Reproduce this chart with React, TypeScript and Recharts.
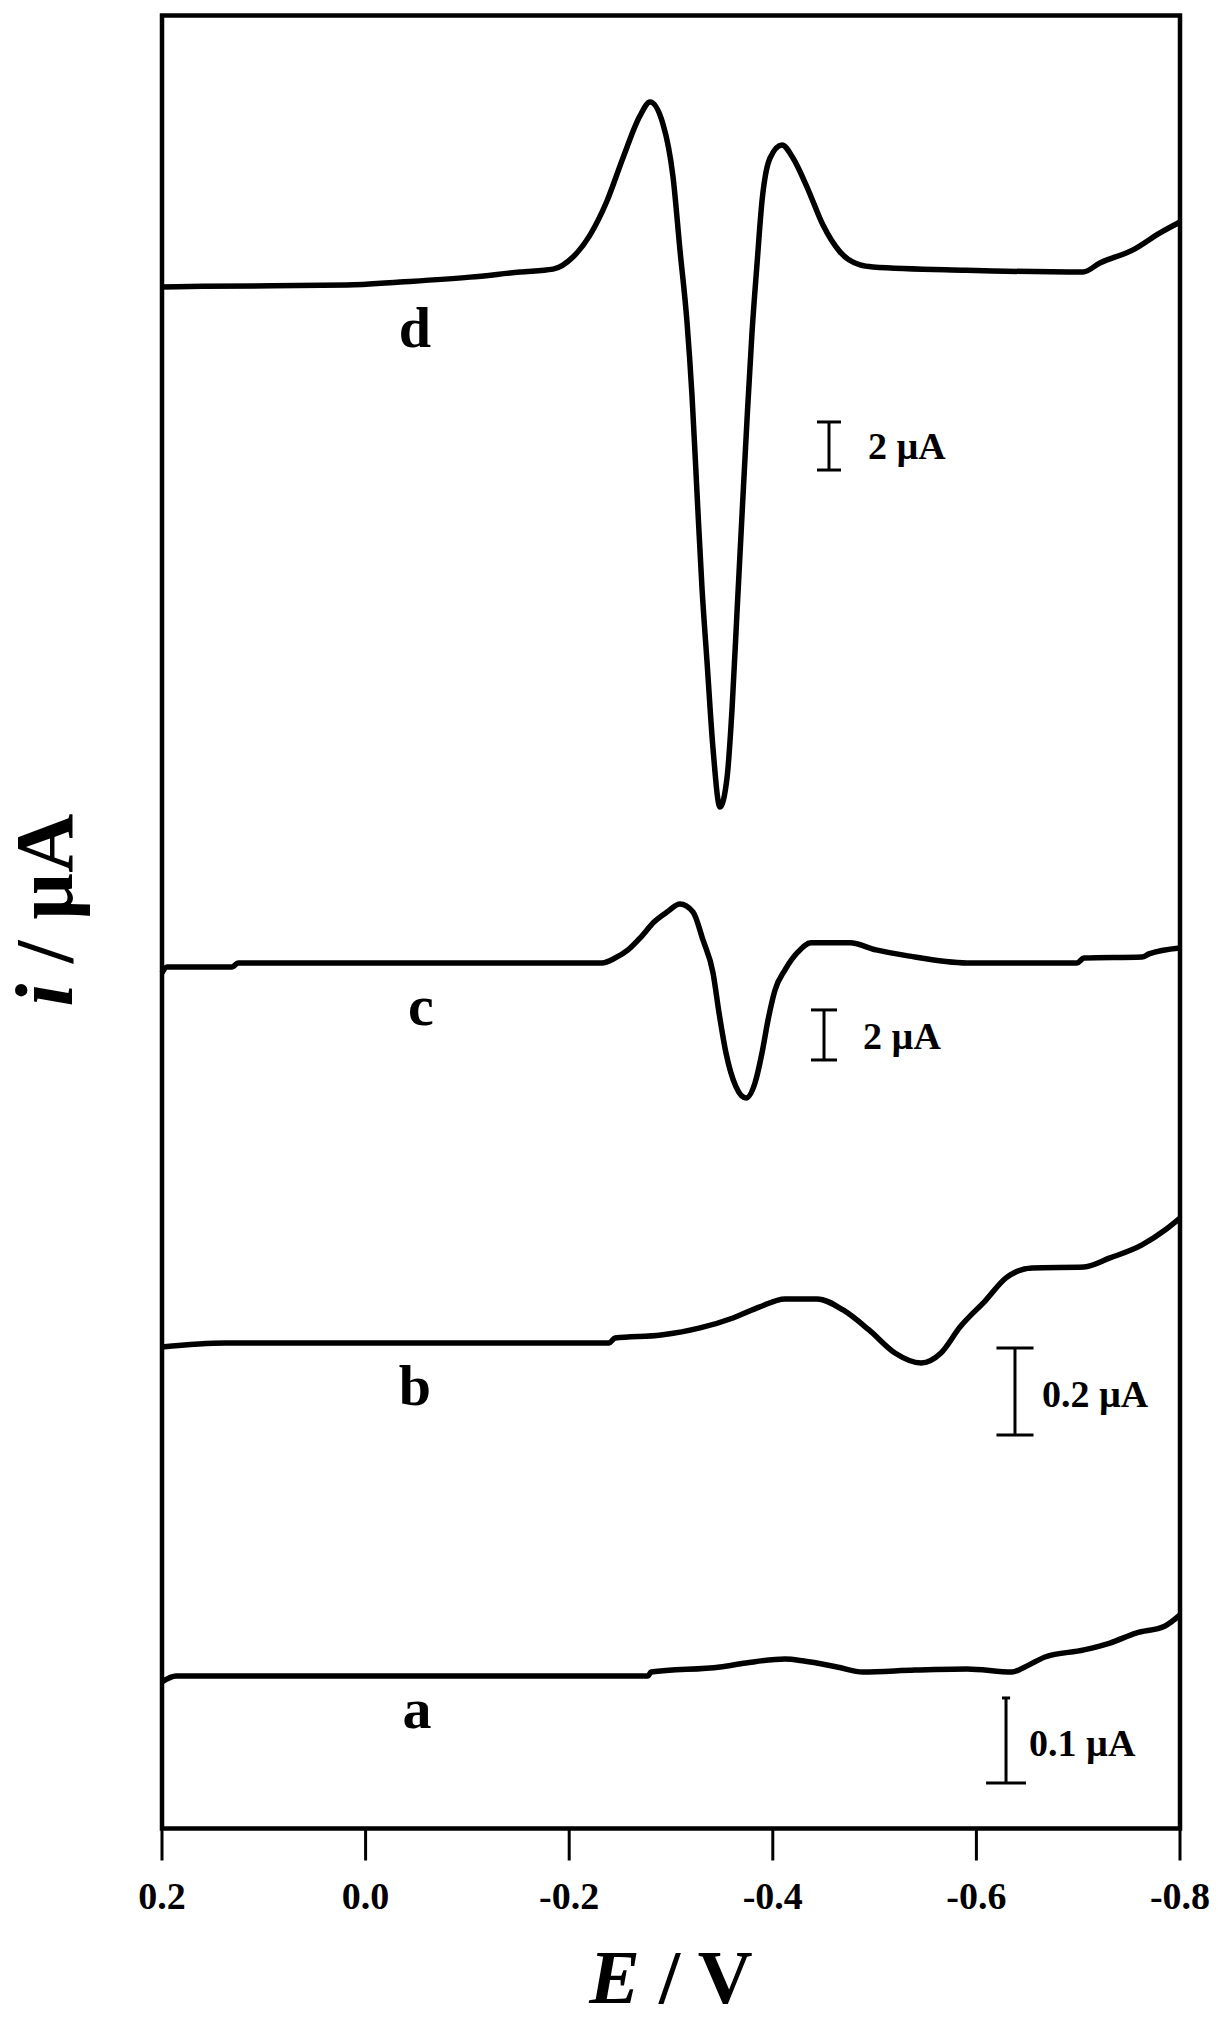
import React from 'react';
import { LineChart, Line, XAxis, YAxis, ReferenceArea, ReferenceLine, ReferenceDot } from 'recharts';

// potential (V) and offset current (arbitrary units, 0-100 of plot height)
const potentialD = [0.2, 0.16, 0.0183, -0.0338, -0.1026, -0.1517, -0.1841, -0.2037, -0.2204, -0.2371, -0.2528, -0.2695, -0.2794, -0.2921, -0.302, -0.3088, -0.3157, -0.3206, -0.3255, -0.3305, -0.3354, -0.3413, -0.3481, -0.355, -0.3599, -0.3648, -0.3697, -0.3747, -0.3796, -0.3845, -0.3894, -0.3973, -0.409, -0.4198, -0.4336, -0.4493, -0.466, -0.4857, -0.4984, -0.59, -0.7047, -0.7214, -0.7538, -0.7804, -0.8];
const currentD = [85.02, 85.06, 85.13, 85.3, 85.57, 85.85, 86.01, 86.68, 87.89, 89.77, 92.14, 94.46, 95.23, 94.02, 91.09, 87.07, 83.1, 79.07, 73.72, 68.37, 64.34, 59.54, 56.34, 57.94, 61.69, 67.04, 72.39, 77.74, 82.54, 86.29, 89.77, 92.14, 92.86, 92.14, 90.54, 88.44, 86.96, 86.24, 86.13, 85.95, 85.85, 86.35, 87.07, 88.01, 88.61];

const potentialC = [0.2, 0.1951, 0.1312, 0.1253, -0.2322, -0.245, -0.2578, -0.2705, -0.2833, -0.2961, -0.3088, -0.3216, -0.3314, -0.3413, -0.3472, -0.354, -0.3639, -0.3737, -0.3825, -0.3894, -0.3953, -0.4022, -0.412, -0.4248, -0.4375, -0.4758, -0.5014, -0.5328, -0.5908, -0.6988, -0.7057, -0.7627, -0.7695, -0.8];
const currentC = [47.19, 47.52, 47.52, 47.74, 47.74, 48.01, 48.46, 49.17, 50.0, 50.55, 50.99, 50.55, 49.01, 47.19, 44.98, 42.78, 40.9, 40.29, 41.12, 42.78, 44.59, 46.25, 47.36, 48.35, 48.85, 48.85, 48.46, 48.13, 47.74, 47.74, 48.01, 48.07, 48.24, 48.57];

const potentialB = [0.2, 0.1381, -0.2391, -0.245, -0.2902, -0.3285, -0.3609, -0.3865, -0.412, -0.4434, -0.469, -0.4945, -0.52, -0.5456, -0.5652, -0.5839, -0.6094, -0.6291, -0.6546, -0.7057, -0.7312, -0.7627, -0.7853, -0.8];
const currentB = [26.56, 26.78, 26.78, 27.05, 27.22, 27.61, 28.16, 28.76, 29.21, 29.21, 28.6, 27.5, 26.23, 25.68, 26.23, 27.66, 29.15, 30.37, 30.92, 30.97, 31.47, 32.19, 33.01, 33.67];

const potentialA = [0.2, 0.1862, -0.2774, -0.2804, -0.3481, -0.3737, -0.412, -0.4306, -0.4631, -0.4886, -0.5397, -0.5908, -0.635, -0.6477, -0.6674, -0.7057, -0.7312, -0.7568, -0.7853, -0.8];
const currentA = [8.08, 8.41, 8.41, 8.63, 8.91, 9.13, 9.35, 9.24, 8.91, 8.63, 8.74, 8.8, 8.63, 8.91, 9.46, 9.85, 10.23, 10.78, 11.17, 11.78];

const xTicks = [0.2, 0, -0.2, -0.4, -0.6, -0.8];

// curve letters: [label, E, baseline]
const curveLabels: [string, number, number][] = [
  ['d', -0.0485, 81.71],
  ['c', -0.0544, 44.32],
  ['b', -0.0485, 23.36],
  ['a', -0.0505, 5.54],
];

// scale bars: E, low, high, cap half-width bottom/top (V), label, label E, label mid
const scaleBars = [
  { e: -0.4552, lo: 74.93, hi: 77.58, capLo: 0.0118, capHi: 0.0118, text: '2 µA', te: -0.4935, tv: 76.26 },
  { e: -0.4503, lo: 42.39, hi: 45.15, capLo: 0.0128, capHi: 0.0128, text: '2 µA', te: -0.4886, tv: 43.71 },
  { e: -0.6379, lo: 21.7, hi: 26.5, capLo: 0.0182, capHi: 0.0182, text: '0.2 µA', te: -0.6644, tv: 23.97 },
  { e: -0.6291, lo: 2.51, hi: 7.2, capLo: 0.0196, capHi: 0.004, text: '0.1 µA', te: -0.6517, tv: 4.73 },
];

const zip = (p: number[], c: number[]) => p.map((E, k) => ({ E, i: c[k] }));
const curves = [
  zip(potentialD, currentD),
  zip(potentialC, currentC),
  zip(potentialB, currentB),
  zip(potentialA, currentA),
];

const FONT = '"Liberation Serif", "Times New Roman", serif';

export default function App() {
  return (
    <div style={{ position: 'absolute', left: 0, top: 0, width: 1218, height: 2022, background: '#fff' }}>
      <LineChart width={1218} height={2022} margin={{ top: 15.5, right: 38, bottom: 133.5, left: 162 }}>
        <XAxis
          type="number"
          dataKey="E"
          domain={[-0.8, 0.2]}
          reversed
          ticks={xTicks}
          interval={0}
          height={60}
          tickFormatter={(v: number) => v.toFixed(1)}
          tickSize={32}
          tickMargin={22}
          axisLine={false}
          tickLine={{ stroke: '#000', strokeWidth: 3 }}
          tick={{ fill: '#000', fontSize: 38, fontWeight: 'bold', fontFamily: FONT }}
        />
        <YAxis type="number" domain={[0, 100]} hide />
        <ReferenceArea x1={0.2} x2={-0.8} y1={0} y2={100} fill="none" stroke="#000" strokeWidth={4.5} ifOverflow="visible" />
        {curves.map((d, k) => (
          <Line key={k} data={d} dataKey="i" type="monotone" stroke="#000" strokeWidth={5.5} dot={false} isAnimationActive={false} />
        ))}
        {curveLabels.map(([t, e, v]) => (
          <ReferenceDot
            key={t}
            x={e}
            y={v}
            r={0}
            ifOverflow="visible"
            shape={(p: any) => (
              <text x={p.cx} y={p.cy} textAnchor="middle" fontSize={58} fontWeight="bold" fontFamily={FONT} fill="#000">
                {t}
              </text>
            )}
          />
        ))}
        {scaleBars.map((s, k) => (
          <React.Fragment key={k}>
            <ReferenceLine segment={[{ x: s.e, y: s.lo }, { x: s.e, y: s.hi }]} stroke="#000" strokeWidth={3} ifOverflow="visible" />
            <ReferenceLine segment={[{ x: s.e + s.capLo, y: s.lo }, { x: s.e - s.capLo, y: s.lo }]} stroke="#000" strokeWidth={3} ifOverflow="visible" />
            <ReferenceLine segment={[{ x: s.e + s.capHi, y: s.hi }, { x: s.e - s.capHi, y: s.hi }]} stroke="#000" strokeWidth={3} ifOverflow="visible" />
            <ReferenceDot
              x={s.te}
              y={s.tv}
              r={0}
              ifOverflow="visible"
              shape={(p: any) => (
                <text x={p.cx} y={p.cy} dominantBaseline="central" textAnchor="start" fontSize={38} fontWeight="bold" fontFamily={FONT} fill="#000">
                  {s.text}
                </text>
              )}
            />
          </React.Fragment>
        ))}
      </LineChart>
      <svg width={1218} height={2022} style={{ position: 'absolute', left: 0, top: 0, pointerEvents: 'none' }}>
        <text x={671} y={2003} textAnchor="middle" fontSize={76} fontWeight="bold" fontFamily={FONT} fill="#000">
          <tspan fontStyle="italic">E</tspan> / V
        </text>
        <text x={72} y={910} transform="rotate(-90 72 910)" textAnchor="middle" fontSize={82} fontWeight="bold" fontFamily={FONT} fill="#000">
          <tspan fontStyle="italic">i</tspan> / µA
        </text>
      </svg>
    </div>
  );
}
